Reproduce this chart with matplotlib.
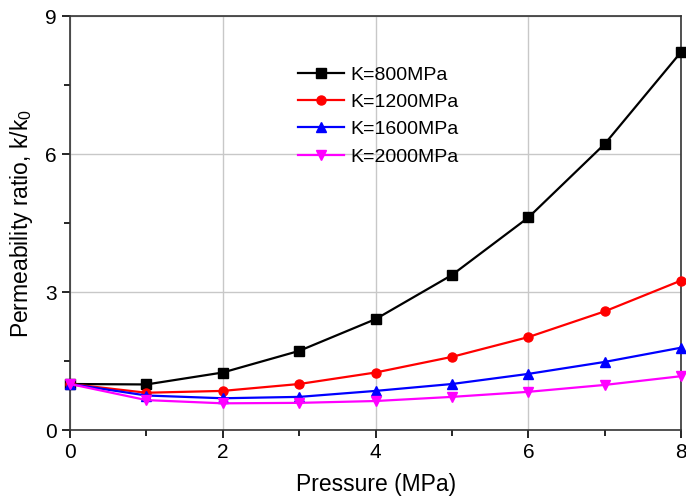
#! /usr/bin/env python3
import matplotlib
matplotlib.use("Agg")
import matplotlib.pyplot as plt
from matplotlib.ticker import MultipleLocator

plt.rcParams["font.family"] = ["Liberation Sans", "DejaVu Sans"]

# Data
pressure = [0, 1, 2, 3, 4, 5, 6, 7, 8]
k800 = [1.00, 0.99, 1.25, 1.72, 2.41, 3.37, 4.62, 6.22, 8.22]
k1200 = [1.00, 0.81, 0.85, 1.00, 1.25, 1.59, 2.02, 2.58, 3.25]
k1600 = [1.00, 0.75, 0.69, 0.72, 0.85, 1.00, 1.22, 1.48, 1.79]
k2000 = [1.00, 0.65, 0.58, 0.59, 0.63, 0.72, 0.83, 0.98, 1.17]
labels = ["K=800MPa", "K=1200MPa", "K=1600MPa", "K=2000MPa"]

series = [k800, k1200, k1600, k2000]
colors = ["black", "red", "blue", "magenta"]
markers = ["s", "o", "^", "v"]

fig = plt.figure(figsize=(6.86, 5.0), dpi=100)
ax = fig.add_axes([0.102, 0.14, 0.891, 0.828])

for y, c, m, lab in zip(series, colors, markers, labels):
    ax.plot(pressure, y, color=c, marker=m, ms=6.5, lw=1.6,
            label=lab, clip_on=False, zorder=3)

ax.set_xlim(0, 8)
ax.set_ylim(0, 9)
ax.xaxis.set_major_locator(MultipleLocator(2))
ax.xaxis.set_minor_locator(MultipleLocator(1))
ax.yaxis.set_major_locator(MultipleLocator(3))
ax.yaxis.set_minor_locator(MultipleLocator(1.5))
ax.tick_params(which="both", direction="out", labelsize=15, width=1.2,
               top=False, right=False)
ax.tick_params(which="major", length=6)
ax.tick_params(which="minor", length=4)
ax.grid(True, which="major", color="#c8c8c8", lw=1.0)
ax.set_axisbelow(True)
for s in ax.spines.values():
    s.set_linewidth(1.2)
    s.set_color("#333333")

ax.set_xlabel("Pressure (MPa)", fontsize=16.5, labelpad=8)
ax.set_ylabel(r"Permeability ratio, k/k$_\mathregular{0}$", fontsize=16.5,
              labelpad=7)

ax.legend(loc="upper left", bbox_to_anchor=(0.36, 0.898), frameon=False,
          fontsize=14, handlelength=2.4, labelspacing=0.5,
          handletextpad=0.3, borderaxespad=0)

fig.savefig("out.png", dpi=100)
